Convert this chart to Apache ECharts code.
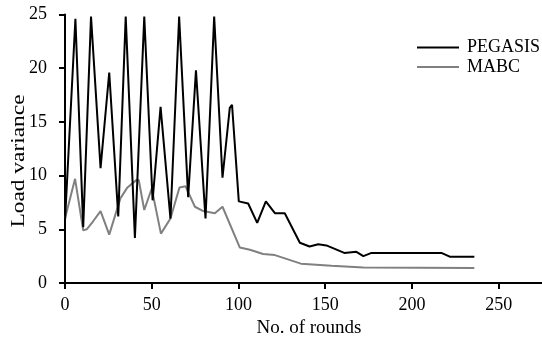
<!DOCTYPE html>
<html>
<head>
<meta charset="utf-8">
<script src="https://cdn.jsdelivr.net/npm/echarts@6/dist/echarts.min.js"></script>
<style>html,body{margin:0;padding:0;background:#fff}#c{width:542px;height:338px}</style>
</head>
<body>
<div id="c"></div>
<script>
var seriesNames = ['PEGASIS', 'MABC'];
var pegasisX = [0, 6, 10.5, 15, 20.5, 25.5, 30.7, 35, 40.3, 45.7, 50.5, 55.1, 60.8, 65.8, 71, 75.5, 81, 86, 90.8, 95, 96.3, 100.2, 105.6, 110.8, 115.8, 121, 126.7, 135.4, 141, 146, 150.7, 161, 168, 172, 176.7, 217, 221.8, 236];
var pegasisY = [5.8, 24.6, 5.2, 24.8, 10.7, 19.6, 6.2, 24.8, 4.2, 24.8, 7.7, 16.4, 6.0, 24.8, 8.0, 19.8, 6.0, 24.8, 9.8, 16.3, 16.6, 7.6, 7.4, 5.6, 7.6, 6.5, 6.5, 3.75, 3.4, 3.6, 3.5, 2.8, 2.9, 2.5, 2.8, 2.8, 2.45, 2.45];
var mabcX = [0, 5.8, 10.5, 12.5, 16, 20.5, 25.5, 32, 36, 41.3, 42.5, 45.7, 50, 55.3, 60.8, 66, 69.5, 74.9, 79.7, 86.4, 90.8, 100.8, 106.6, 114.2, 121, 136, 153.6, 172, 236];
var mabcY = [6.0, 9.7, 4.9, 5.0, 5.7, 6.7, 4.5, 7.9, 8.9, 9.6, 9.6, 6.8, 8.8, 4.6, 6.0, 8.9, 9.0, 7.1, 6.7, 6.5, 7.1, 3.3, 3.1, 2.7, 2.6, 1.8, 1.6, 1.45, 1.4];
var xTicks = [0, 50, 100, 150, 200, 250];
var yTicks = [0, 5, 10, 15, 20, 25];
var xTitle = 'No. of rounds';
var yTitle = 'Load variance';

function pairs(xs, ys) { return xs.map(function (x, i) { return [x, ys[i]]; }); }

var font = 'Liberation Serif';
var chart = echarts.init(document.getElementById('c'), null, { renderer: 'canvas' });
chart.setOption({
  animation: false,
  backgroundColor: '#fff',
  textStyle: { fontFamily: font },
  grid: { left: 65, right: 0, top: 14.5, bottom: 55, containLabel: false, outerBoundsMode: 'none' },
  legend: {
    data: seriesNames.map(function (n) { return { name: n, icon: 'rect' }; }),
    orient: 'vertical',
    left: 412,
    top: 33.5,
    itemWidth: 42,
    itemHeight: 2,
    itemGap: 1.6,
    textStyle: { fontFamily: font, fontSize: 18, color: '#000', lineHeight: 18, padding: [0, 0, 0, 3] }
  },
  graphic: [{
    type: 'text',
    x: 19,
    y: 161,
    rotation: Math.PI / 2,
    scaleX: 1.3,
    style: {
      text: yTitle,
      fontFamily: font,
      fontSize: 18,
      fill: '#000',
      align: 'center',
      verticalAlign: 'middle'
    }
  }],
  xAxis: {
    type: 'value',
    min: 0,
    max: 275,
    interval: 50,
    name: xTitle,
    nameLocation: 'middle',
    nameGap: 31,
    nameTextStyle: { fontFamily: font, fontSize: 19, color: '#000', padding: [0, 0, 0, 11] },
    axisLine: { show: true, lineStyle: { color: '#000', width: 2 } },
    axisTick: { show: true, length: 6, lineStyle: { color: '#000', width: 2 }, customValues: xTicks },
    axisLabel: { fontFamily: font, fontSize: 18, color: '#000', margin: 13, customValues: xTicks },
    splitLine: { show: false }
  },
  yAxis: {
    type: 'value',
    min: 0,
    max: 25,
    interval: 5,
    axisLine: { show: true, lineStyle: { color: '#000', width: 2 } },
    axisTick: { show: true, length: 6, lineStyle: { color: '#000', width: 2 }, customValues: yTicks },
    axisLabel: { fontFamily: font, fontSize: 18, color: '#000', margin: 18, customValues: yTicks },
    splitLine: { show: false }
  },
  series: [
    {
      name: seriesNames[0], type: 'line', showSymbol: false, symbol: 'none',
      data: pairs(pegasisX, pegasisY),
      lineStyle: { color: '#000', width: 2 }, itemStyle: { color: '#000' }, z: 3
    },
    {
      name: seriesNames[1], type: 'line', showSymbol: false, symbol: 'none',
      data: pairs(mabcX, mabcY),
      lineStyle: { color: '#808080', width: 2 }, itemStyle: { color: '#808080' }, z: 2
    }
  ]
});
</script>
</body>
</html>
